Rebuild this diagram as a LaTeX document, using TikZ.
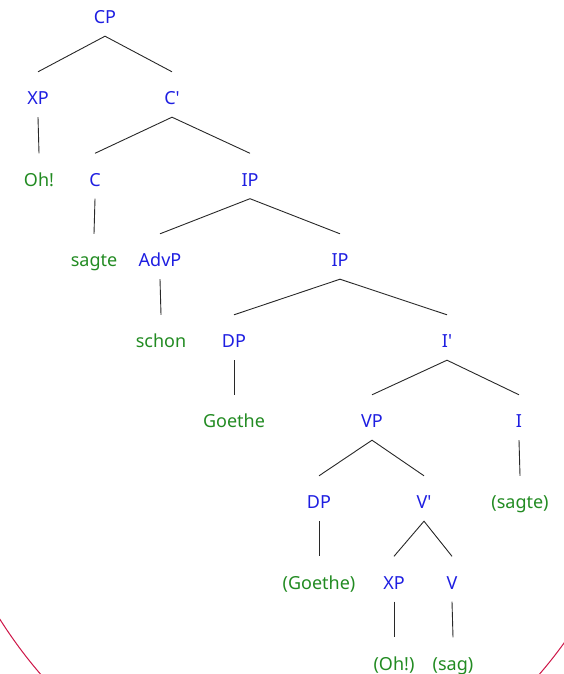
\documentclass[tikz,border=0pt]{standalone}
\usepackage{fontspec}
\setmainfont{Noto Sans}[Ligatures=TeXOff]
\definecolor{catblue}{RGB}{30,30,225}
\definecolor{wordgreen}{RGB}{34,139,34}
\definecolor{linegray}{RGB}{40,40,40}
\definecolor{arcred}{RGB}{205,20,70}
\begin{document}
\begin{tikzpicture}[x=1pt,y=-1pt,
  lbl/.style={anchor=base, inner sep=0pt, text height=32.5pt, text depth=12.5pt,
    font=\fontsize{18}{20}\selectfont},
  cat/.style={lbl, text=catblue},
  word/.style={lbl, text=wordgreen},
  branch/.style={draw=linegray, line width=0.9pt}]
\useasboundingbox (0,0) rectangle (564,674);
\begin{scope}
\clip (0,0) rectangle (564,674);
\draw[arcred, line width=1pt] (290,300) ellipse [x radius=378, y radius=498];
\end{scope}
% rows (baselines)
\def\ra{23.5}\def\rb{104.5}\def\rc{186}\def\rd{266.5}\def\re{347.5}
\def\rf{427.5}\def\rg{508.5}\def\rh{589}\def\ri{670}
\node[cat]  (cp)      at (105,\ra) {CP};
\node[cat]  (xp1)     at (38,\rb)  {XP};
\node[cat]  (cbar)    at (172,\rb) {C'};
\node[word] (oh)      at (39,\rc)  {Oh!};
\node[cat]  (c)       at (95,\rc)  {C};
\node[cat]  (ip1)     at (250,\rc) {IP};
\node[word] (sagte)   at (94,\rd)  {sagte};
\node[cat]  (advp)    at (160,\rd) {AdvP};
\node[cat]  (ip2)     at (340,\rd) {IP};
\node[word] (schon)   at (161,\re) {schon};
\node[cat]  (dp1)     at (234,\re) {DP};
\node[cat]  (ibar)    at (447,\re) {I'};
\node[word] (goethe)  at (234,\rf) {Goethe};
\node[cat]  (vp)      at (372,\rf) {VP};
\node[cat]  (i)       at (519,\rf) {I};
\node[cat]  (dp2)     at (319,\rg) {DP};
\node[cat]  (vbar)    at (424,\rg) {V'};
\node[word] (sagte2)  at (520,\rg) {(sagte)};
\node[word] (goethe2) at (319,\rh) {(Goethe)};
\node[cat]  (xp2)     at (394,\rh) {XP};
\node[cat]  (v)       at (452,\rh) {V};
\node[word] (oh2)     at (394,\ri) {(Oh!)};
\node[word] (sag)     at (453,\ri) {(sag)};
% branches
\draw[branch] (xp1.north) -- (cp.south) -- (cbar.north);
\draw[branch] (xp1.south) -- (oh.north);
\draw[branch] (c.north) -- (cbar.south) -- (ip1.north);
\draw[branch] (c.south) -- (sagte.north);
\draw[branch] (advp.north) -- (ip1.south) -- (ip2.north);
\draw[branch] (advp.south) -- (schon.north);
\draw[branch] (dp1.north) -- (ip2.south) -- (ibar.north);
\draw[branch] (dp1.south) -- (goethe.north);
\draw[branch] (vp.north) -- (ibar.south) -- (i.north);
\draw[branch] (i.south) -- (sagte2.north);
\draw[branch] (dp2.north) -- (vp.south) -- (vbar.north);
\draw[branch] (dp2.south) -- (goethe2.north);
\draw[branch] (xp2.north) -- (vbar.south) -- (v.north);
\draw[branch] (xp2.south) -- (oh2.north);
\draw[branch] (v.south) -- (sag.north);
\end{tikzpicture}
\end{document}
